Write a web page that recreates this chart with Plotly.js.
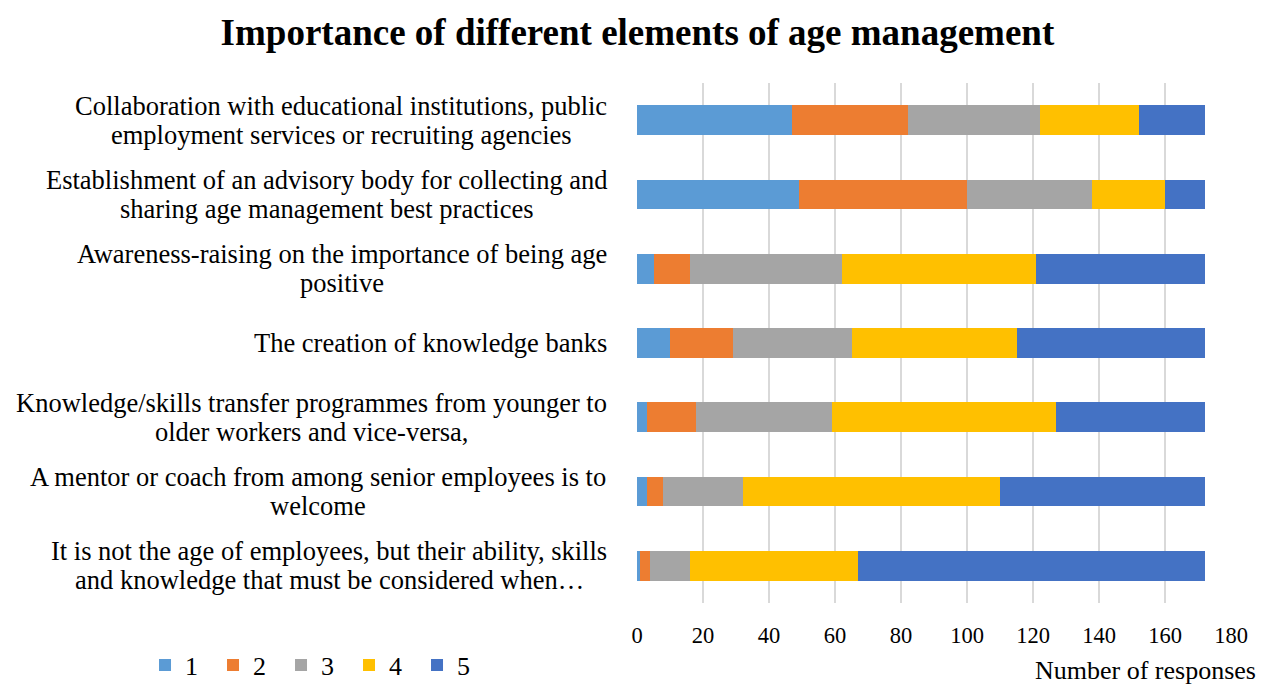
<!DOCTYPE html>
<html>
<head>
<meta charset="utf-8">
<script src="https://cdn.plot.ly/plotly-3.0.1.min.js"></script>
<style>html,body{margin:0;padding:0;background:#fff;}#chart{width:1261px;height:686px;}</style>
</head>
<body>
<div id="chart"></div>
<script>
const categories = [
  "Collaboration with educational institutions, public<br>employment services or recruiting agencies",
  "Establishment of an advisory body for collecting and<br>sharing age management best practices",
  "Awareness-raising on the importance of being age<br>positive",
  "The creation of knowledge banks",
  "Knowledge/skills transfer programmes from younger to<br>older workers and vice-versa,",
  "A mentor or coach from among senior employees is to<br>welcome",
  "It is not the age of employees, but their ability, skills<br>and knowledge that must be considered when…"
];
const seriesNames = ["1", "2", "3", "4", "5"];
const score1 = [47, 49, 5, 10, 3, 3, 1];
const score2 = [35, 51, 11, 19, 15, 5, 3];
const score3 = [40, 38, 46, 36, 41, 24, 12];
const score4 = [30, 22, 59, 50, 68, 78, 51];
const score5 = [20, 12, 51, 57, 45, 62, 105];
const colors = ["#5B9BD5", "#ED7D31", "#A5A5A5", "#FFC000", "#4472C4"];
const xTicks = [0, 20, 40, 60, 80, 100, 120, 140, 160, 180];

const FONT = "'Liberation Serif', 'Times New Roman', serif";
const LABEL_SIZE = 26.5;
const LINE_GAP = 29;

const allSeries = [score1, score2, score3, score4, score5];
const traces = allSeries.map((vals, i) => ({
  type: "bar",
  orientation: "h",
  name: seriesNames[i],
  y: categories,
  x: vals,
  marker: {color: colors[i], line: {width: 0}},
  hoverinfo: "skip"
}));

// measure text so multi-line category labels are centred on each other, right-aligned as a block
const cv = document.createElement("canvas");
const ctx = cv.getContext("2d");
ctx.font = LABEL_SIZE + "px 'Liberation Serif'";
const labelAnnotations = [];
categories.forEach(c => {
  const lines = c.split("<br>");
  const blockW = Math.max(...lines.map(l => ctx.measureText(l).width));
  lines.forEach((l, i) => {
    labelAnnotations.push({
      xref: "paper", yref: "y",
      x: -0.05, y: c,
      xshift: -blockW / 2,
      yshift: ((lines.length - 1) / 2 - i) * LINE_GAP,
      text: l,
      showarrow: false,
      xanchor: "center", yanchor: "middle",
      font: {family: FONT, size: LABEL_SIZE, color: "#000"}
    });
  });
});

const layout = {
  width: 1261, height: 686,
  margin: {l: 637, r: 30, t: 83, b: 83, autoexpand: false},
  paper_bgcolor: "#fff", plot_bgcolor: "#fff",
  font: {family: FONT, size: 22, color: "#000"},
  title: {
    text: "<b>Importance of different elements of age management</b>",
    font: {family: FONT, size: 37, color: "#000"},
    x: 0.5055, xref: "container", xanchor: "center",
    y: 0.953, yref: "container", yanchor: "middle"
  },
  barmode: "stack",
  bargap: 0.6,
  xaxis: {
    range: [0, 180],
    tickvals: xTicks,
    ticktext: xTicks.map(String),
    showgrid: true, gridcolor: "#D9D9D9", gridwidth: 1.5,
    zeroline: false, showline: false,
    ticks: "",
    ticklabelstandoff: 16,
    tickfont: {family: FONT, size: 22.5, color: "#000"},
    fixedrange: true
  },
  yaxis: {
    autorange: "reversed",
    showticklabels: false,
    showgrid: false, zeroline: false, showline: false, ticks: "",
    fixedrange: true
  },
  showlegend: true,
  legend: {
    orientation: "h",
    xref: "container", yref: "container",
    x: 0.115, xanchor: "left",
    y: 0.0306, yanchor: "middle",
    font: {family: FONT, size: 26, color: "#000"},
    entrywidth: 23, entrywidthmode: "pixels",
    traceorder: "normal",
    bgcolor: "rgba(0,0,0,0)"
  },
  annotations: labelAnnotations.concat([{
    xref: "paper", yref: "paper",
    x: 1.045, y: -0.130,
    xanchor: "right", yanchor: "middle",
    text: "Number of responses",
    showarrow: false,
    font: {family: FONT, size: 26, color: "#000"}
  }])
};

Plotly.newPlot("chart", traces, layout, {displayModeBar: false, staticPlot: true});
</script>
</body>
</html>
